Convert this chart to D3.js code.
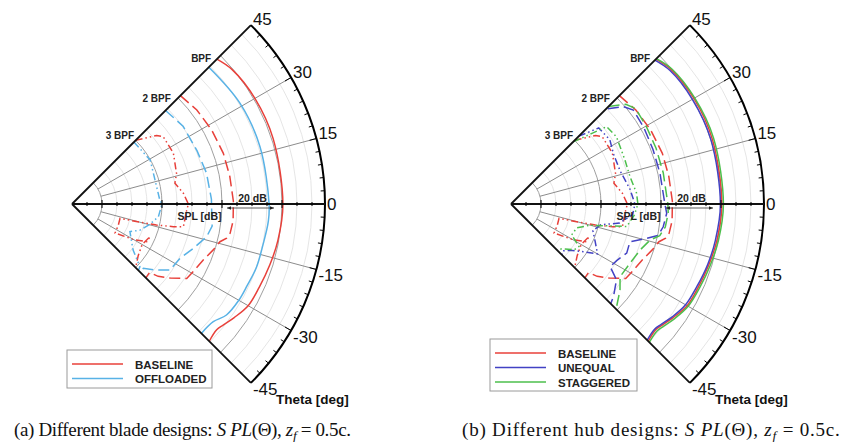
<!DOCTYPE html>
<html>
<head>
<meta charset="utf-8">
<script src="https://cdn.jsdelivr.net/npm/d3@7"></script>
<style>
  body { margin: 0; background: #fff; }
  svg { display: block; }
  text { font-family: "Liberation Sans", Arial, sans-serif; }
  .cap { font-family: "Liberation Serif", "Times New Roman", serif; font-size: 19px; }
</style>
</head>
<body>
<svg width="861" height="442"></svg>
<script>
// angles (deg) and SPL (dB), one list per curve
var baseBPF  = [[45,118.3],[40,119.7],[30,120.4],[18,120.5],[0,120.3],[-10,119.7],[-17,119],[-24,118.3],[-30,117.8],[-35,116],[-38.6,114.6],[-41,113.9],[-45,114.7]];
var base2BPF = [[45,101.1],[37,102.1],[28,102.7],[18.5,103.2],[10,103.4],[1,103.8],[-6,104],[-10.5,103.6],[-12.5,102.8],[-14.3,100.9],[-18,99.5],[-23,97.6],[-29,96.3],[-33,95.6],[-37,91],[-40,87.5],[-41.5,84.5],[-45,84.8]];
var base3BPF = [[45,80],[39,86.3],[36.4,87.8],[26.6,87.8],[16.3,86.3],[11.4,85],[5.5,87.3],[0,88.8],[-3,88.3],[-11.5,87.9],[-12.6,84.6],[-14,79],[-15,73.4],[-16.6,66.7],[-25,67],[-34,67.3],[-30,73.7],[-26.8,77.9],[-22.7,78.2],[-30,77],[-38,78],[-45,80]];

var offBPF  = [[45,114.5],[31,115.3],[17,115.5],[0,115.7],[-5,115.7],[-12,115.1],[-19,115],[-25,114.4],[-30,114.2],[-35.7,113.4],[-39.8,111.3],[-45,111]];
var off2BPF = [[45,94.1],[35,95.2],[23,95.3],[13,96],[2,96.5],[-4,96.7],[-9,97.3],[-13.6,96.2],[-20,93.1],[-26.7,90.3],[-34,89.4],[-38,85.8],[-42,82],[-45,82]];
var off3BPF = [[45,79.2],[29.4,79.9],[16,78.8],[2.6,79.3],[0,80],[-8.4,79.1],[-15,76.7],[-21,74.3],[-25.5,71.4],[-30,72.7],[-37,75.5],[-42.7,80.8],[-45,81.3]];

var uneBPF  = [[45,117.8],[40,119.2],[30,119.8],[18,120],[0,119.8],[-10,119.2],[-17,118.6],[-24,117.8],[-30,117.2],[-35,115.6],[-38.6,114.2],[-41,113.5],[-45,114.2]];
var une2BPF = [[44.5,95.3],[41,99.5],[37.5,101.4],[30,101.1],[21,100.7],[11.6,100.7],[0,101.3],[-3.4,102],[-8.5,101.3],[-12,100.2],[-14.2,96.7],[-17.6,91.6],[-23,91.9],[-28,90],[-32.3,89.1],[-35.7,93.3],[-42,96],[-45,97]];
var une3BPF = [[45,82],[40.9,88.7],[33,89.3],[26,88],[17,88],[7,90],[0,91.3],[-5,90.7],[-10,86.7],[-13,80.7],[-18,78.7],[-24,80.7],[-30,83.3],[-33,79.3],[-38,75],[-42,73.3],[-45,74]];

var stagBPF  = [[45,118.5],[40,120],[30,120.7],[18,121],[0,120.8],[-10,120.2],[-17,119.5],[-24,118.8],[-30,118.2],[-35,116.6],[-38.6,115.2],[-41,114.5],[-45,115.2]];
var stag2BPF = [[45,96],[41,100.7],[37.5,102.3],[30,102],[21,101.8],[11.6,101.8],[0,102.3],[-3.4,102.5],[-8.5,102],[-12,100.7],[-14.5,97.9],[-19.6,95.7],[-26.5,94.3],[-33.7,93.7],[-38.3,96.3],[-44.2,99.1],[-45,99.3]];
var stag3BPF = [[45,79.3],[41,86],[39,91],[32.5,91.7],[21,90.7],[13,90.7],[5,92],[0,92.3],[-5,91.3],[-11,89.3],[-15,77.3],[-20,73.3],[-27,72.7],[-32,76.7],[-36,76],[-41,72.7],[-45,71.7]];

var thetaTicks = [45, 30, 15, 0, -15, -30, -45];
var majorSPL = [60, 80, 100, 120];
var harmonicLabels = [["BPF", 117], ["2 BPF", 98], ["3 BPF", 80.7]];
var leftNames = ["BASELINE", "OFFLOADED"];
var rightNames = ["BASELINE", "UNEQUAL", "STAGGERED"];

var RED = "#e8403a", LBLUE = "#58b2e6", DBLUE = "#4242c4", GREEN = "#4cbf4c";
var DASH2 = "11,5", DASH3 = "7,3,1.5,3,1.5,3";

var svg = d3.select("svg");
var R = 253;
var r = d3.scaleLinear().domain([50, 50 + R / 3]).range([0, R]);
var ang = d3.scaleLinear().domain([-45, 45]).range([3 * Math.PI / 4, Math.PI / 4]); // d3 radial angle

function pt(theta, rad) {
    var a = theta * Math.PI / 180;
    return [rad * Math.cos(a), -rad * Math.sin(a)];
}

function drawPanel(cx, cy, series, names, legendBox) {
    var g = svg.append("g").attr("transform", "translate(" + cx + "," + cy + ")");

    // minor arcs
    for (var db = 65; db <= 130; db += 5) {
        if (majorSPL.indexOf(db) >= 0) continue;
        var p = d3.path();
        p.arc(0, 0, r(db), -Math.PI / 4, Math.PI / 4);
        g.append("path").attr("d", p.toString()).attr("fill", "none")
            .attr("stroke", "#e2e2e2").attr("stroke-width", 0.9);
    }
    // major arcs
    majorSPL.forEach(function (db) {
        var p = d3.path();
        p.arc(0, 0, r(db), -Math.PI / 4, Math.PI / 4);
        g.append("path").attr("d", p.toString()).attr("fill", "none")
            .attr("stroke", "#a0a0a0").attr("stroke-width", 1);
    });
    // radial grid lines
    [30, 15, -15, -30].forEach(function (t) {
        var a = pt(t, r(60)), b = pt(t, R);
        g.append("line").attr("x1", a[0]).attr("y1", a[1]).attr("x2", b[0]).attr("y2", b[1])
            .attr("stroke", "#8c8c8c").attr("stroke-width", 1);
    });
    // outer arc ticks every 3 deg
    for (var t = -42; t <= 42; t += 3) {
        var len = (t % 15 === 0) ? 7 : 4;
        var a1 = pt(t, R), a2 = pt(t, R - len);
        g.append("line").attr("x1", a1[0]).attr("y1", a1[1]).attr("x2", a2[0]).attr("y2", a2[1])
            .attr("stroke", "#000").attr("stroke-width", 1);
    }
    // curves
    var line = d3.lineRadial()
        .angle(function (d) { return ang(d[0]); })
        .radius(function (d) { return r(d[1]); });
    series.forEach(function (s) {
        g.append("path").datum(s.data)
            .attr("d", line.curve(s.smooth ? d3.curveCatmullRom.alpha(0.5) : d3.curveLinear))
            .attr("fill", "none").attr("stroke", s.color).attr("stroke-width", 1.5)
            .attr("stroke-dasharray", s.dash || null);
    });

    // frame: 0 axis, +-45 edges, outer arc
    var op = d3.path();
    op.arc(0, 0, R, -Math.PI / 4, Math.PI / 4);
    g.append("path").attr("d", op.toString()).attr("fill", "none").attr("stroke", "#000").attr("stroke-width", 2);
    [45, -45].forEach(function (t) {
        var b = pt(t, R);
        g.append("line").attr("x1", 0).attr("y1", 0).attr("x2", b[0]).attr("y2", b[1])
            .attr("stroke", "#111").attr("stroke-width", 1.8);
    });
    g.append("line").attr("x1", 0).attr("y1", 0).attr("x2", R).attr("y2", 0)
        .attr("stroke", "#111").attr("stroke-width", 2);
    // ticks on the SPL axis
    for (var db2 = 55; db2 <= 130; db2 += 5) {
        var major = majorSPL.indexOf(db2) >= 0;
        g.append("line").attr("x1", r(db2)).attr("x2", r(db2))
            .attr("y1", major ? -4 : -2).attr("y2", major ? 4 : 2)
            .attr("stroke", "#000").attr("stroke-width", 1);
    }

    // theta labels
    thetaTicks.forEach(function (t) {
        var p = pt(t, R);
        g.append("text").attr("x", p[0] + 2).attr("y", p[1])
            .attr("dominant-baseline", t > 0 ? "alphabetic" : (t === 0 ? "central" : "hanging"))
            .attr("font-size", 17).attr("fill", "#111").text(t);
    });
    var lp = pt(-45, R);
    g.append("text").attr("x", lp[0] + 25).attr("y", lp[1] + 21)
        .attr("font-size", 13.5).attr("font-weight", "bold").attr("fill", "#111").text("Theta [deg]");

    // harmonic labels along the 45 deg edge
    harmonicLabels.forEach(function (h) {
        var p = pt(45, r(h[1]));
        g.append("text").attr("x", p[0] - 3).attr("y", p[1])
            .attr("text-anchor", "end").attr("font-size", 10).attr("font-weight", "bold")
            .attr("fill", "#222").text(h[0]);
    });

    g.append("text").attr("x", r(92.5)).attr("y", 16).attr("text-anchor", "middle")
        .attr("font-size", 10.5).attr("font-weight", "bold").attr("fill", "#222").text("SPL [dB]");

    // 20 dB scale bar
    var xa = 155, xb = 202;
    g.append("text").attr("x", (xa + xb) / 2 + 2).attr("y", -2).attr("text-anchor", "middle")
        .attr("font-size", 10.5).attr("font-weight", "bold").attr("fill", "#222").text("20 dB");
    g.append("line").attr("x1", xa).attr("x2", xb).attr("y1", 4).attr("y2", 4)
        .attr("stroke", "#333").attr("stroke-width", 0.8);
    g.append("path").attr("d", "M" + xb + ",4l-4,-1.8v3.6z").attr("fill", "#222");
    g.append("path").attr("d", "M" + xa + ",4l4,-1.8v3.6z").attr("fill", "#222");

    // legend
    var lg = svg.append("g");
    lg.append("rect").attr("x", legendBox.x).attr("y", legendBox.y)
        .attr("width", legendBox.w).attr("height", legendBox.h)
        .attr("fill", "#fff").attr("stroke", "#9a9a9a").attr("stroke-width", 1);
    names.forEach(function (n, i) {
        var y = legendBox.y + 14 + i * 14.5;
        lg.append("line").attr("x1", legendBox.x + 5).attr("x2", legendBox.x + 56)
            .attr("y1", y).attr("y2", y).attr("stroke", series[i * 3].color).attr("stroke-width", 1.5);
        lg.append("text").attr("x", legendBox.x + 68).attr("y", y + 4.5)
            .attr("font-size", 11.5).attr("font-weight", "bold").attr("fill", "#222").text(n);
    });
}

drawPanel(72, 204, [
    { data: baseBPF, color: RED, smooth: true },
    { data: base2BPF, color: RED, dash: DASH2 },
    { data: base3BPF, color: RED, dash: DASH3 },
    { data: offBPF, color: LBLUE, smooth: true },
    { data: off2BPF, color: LBLUE, dash: DASH2 },
    { data: off3BPF, color: LBLUE, dash: DASH3 }
], leftNames, { x: 67, y: 350, w: 145, h: 38 });

drawPanel(511, 204, [
    { data: baseBPF, color: RED, smooth: true },
    { data: base2BPF, color: RED, dash: DASH2 },
    { data: base3BPF, color: RED, dash: DASH3 },
    { data: uneBPF, color: DBLUE, smooth: true },
    { data: une2BPF, color: DBLUE, dash: DASH2 },
    { data: une3BPF, color: DBLUE, dash: DASH3 },
    { data: stagBPF, color: GREEN, smooth: true },
    { data: stag2BPF, color: GREEN, dash: DASH2 },
    { data: stag3BPF, color: GREEN, dash: DASH3 }
], rightNames, { x: 490, y: 339, w: 147, h: 52 });

// captions
function caption(x, spacing, label) {
    var t = svg.append("text").attr("class", "cap").attr("x", x).attr("y", 436).attr("fill", "#111")
        .attr("letter-spacing", spacing);
    t.append("tspan").text(label + ": ");
    t.append("tspan").attr("font-style", "italic").text("S PL");
    t.append("tspan").text("(\u0398), ");
    t.append("tspan").attr("font-style", "italic").text("z");
    t.append("tspan").attr("font-style", "italic").attr("font-size", 13.5).attr("dy", 4).text("f");
    t.append("tspan").attr("dy", -4).text(" = 0.5c.");
}
caption(14, -0.35, "(a) Different blade designs");
caption(462, 0.8, "(b) Different hub designs");
</script>
</body>
</html>
